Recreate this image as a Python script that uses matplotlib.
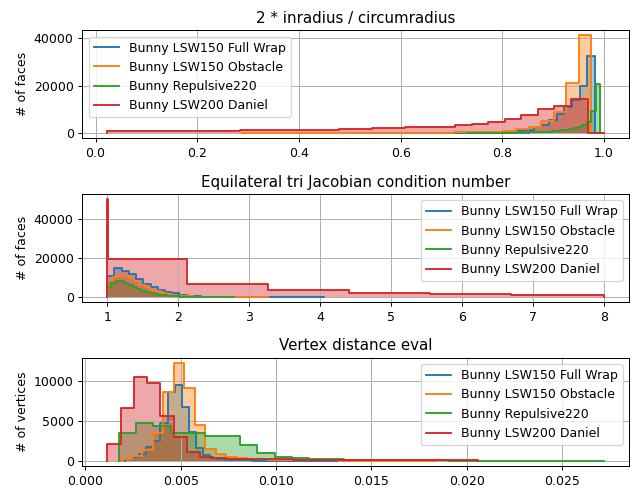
import numpy as np
import matplotlib
matplotlib.use("Agg")
import matplotlib.pyplot as plt

labels = ['Bunny LSW150 Full Wrap', 'Bunny LSW150 Obstacle',
          'Bunny Repulsive220', 'Bunny LSW200 Daniel']
colors = ['tab:blue', 'tab:orange', 'tab:green', 'tab:red']

# --- 2 * inradius / circumradius  (bin range, counts per bin)
ratio_wrap_range = (0.53, 0.982)
ratio_wrap = [1, 2, 4, 5, 8, 10, 15, 20, 25, 35, 45, 60, 80, 100, 130,
              180, 250, 350, 500, 700, 1000, 1300, 2600, 3700, 5700,
              8300, 11000, 14000, 20000, 32500]
ratio_obst_range = (0.288, 0.999)
ratio_obst = [20, 25, 30, 35, 40, 50, 60, 70, 80, 100, 120, 140, 170, 200,
              240, 290, 350, 420, 500, 620, 750, 1100, 1700, 2600, 5000,
              9000, 21000, 41000, 150]
ratio_rep_range = (0.73, 0.992)
ratio_rep = [40, 55, 70, 85, 100, 120, 140, 160, 190, 220, 250, 290, 330,
             380, 430, 500, 600, 700, 800, 900, 1100, 1300, 1600, 1800,
             2100, 2900, 3600, 4700, 9500, 20700]
ratio_dan_range = (0.023, 1.0)
ratio_dan = [900, 900, 950, 950, 1000, 1000, 1000, 1050, 1400, 1450, 1500,
             1500, 1550, 1600, 2000, 2050, 2100, 2150, 2600, 2700, 2800,
             3600, 3800, 4800, 5900, 7900, 10000, 11400, 14500, 100]

# --- Equilateral tri Jacobian condition number
jac_wrap_range = (1.0, 4.05)
jac_wrap = [11000, 14900, 13600, 11900, 9300, 6800, 5100, 3900, 2900, 2000,
            1400, 850, 550, 350, 240, 170, 120, 90, 70, 55, 45, 35, 28, 22,
            18, 14, 10, 8, 6, 5]
jac_obst_range = (1.0, 3.27)
jac_obst = [8800, 10500, 11400, 11000, 9800, 8100, 6400, 5100, 3900, 3000,
            2400, 1700, 1200, 850, 600, 430, 310, 230, 170, 130, 100, 80,
            60, 45, 35, 25, 20, 15, 10, 8]
jac_rep_range = (1.0, 2.79)
jac_rep = [5100, 7100, 8500, 8500, 7500, 6300, 5100, 4100, 3400, 2700, 2200,
           1700, 1400, 1100, 850, 650, 500, 380, 290, 220, 170, 130, 100,
           80, 60, 45, 35, 25, 18, 12]
jac_dan_edges = [1.0, 1.004, 2.13, 3.27, 4.41, 5.55, 6.69, 8.0]
jac_dan = [50000, 19500, 6600, 3700, 2400, 1750, 1100]

# --- Vertex distance eval
dist_wrap_range = (0.00209, 0.01319)
dist_wrap = [250, 540, 900, 1800, 2500, 4800, 8670, 9580, 6800, 3670, 1580,
             750, 420, 280, 200, 150, 110, 85, 65, 50, 40, 30, 22, 16, 12,
             9, 6, 4, 3, 2]
dist_obst_range = (0.00188, 0.01838)
dist_obst = [250, 700, 1400, 3460, 8600, 12300, 9200, 4500, 1460, 830, 540,
             380, 280, 220, 180, 150, 130, 115, 100, 90, 80, 70, 60, 50, 40,
             30, 25, 20, 15, 10]
dist_rep_range = (0.00175, 0.0272)
dist_rep = [3580, 4790, 4375, 3540, 3540, 3125, 3125, 2000, 960, 540, 330,
            250, 210, 180, 150, 130, 110, 95, 80, 70, 60, 50, 40, 35, 30,
            25, 20, 15]
dist_dan_range = (0.00115, 0.0206)
dist_dan = [2100, 6700, 10500, 9800, 5600, 3000, 1200, 550, 350, 280, 250,
            230, 220, 210, 200, 200, 190, 190, 180, 180, 170, 170, 160, 160,
            150, 150, 140, 140]


def edges_from(rng, counts):
    return np.linspace(rng[0], rng[1], len(counts) + 1)


def draw(ax, series):
    for (counts, edges), c, lab in zip(series, colors, labels):
        edges = np.asarray(edges, dtype=float)
        x = np.concatenate([[edges[0]], edges])
        y = np.concatenate([[0], counts, [0]])
        poly = ax.fill_between(x, y, step='post', color=c, alpha=0.4,
                               linewidth=0)
        poly.sticky_edges.y[:] = []
        ax.step(x, y, where='post', color=c, linewidth=1.5, label=lab)


fig, axs = plt.subplots(3, 1, figsize=(634 / 90, 488 / 90), dpi=90)
fig.subplots_adjust(left=0.130, right=0.992, top=0.938, bottom=0.045,
                    hspace=0.515)

draw(axs[0], [
    (ratio_wrap, edges_from(ratio_wrap_range, ratio_wrap)),
    (ratio_obst, edges_from(ratio_obst_range, ratio_obst)),
    (ratio_rep, edges_from(ratio_rep_range, ratio_rep)),
    (ratio_dan, edges_from(ratio_dan_range, ratio_dan)),
])
axs[0].set_title('2 * inradius / circumradius')
axs[0].set_ylabel('# of faces')
axs[0].legend(loc='upper left')

draw(axs[1], [
    (jac_wrap, edges_from(jac_wrap_range, jac_wrap)),
    (jac_obst, edges_from(jac_obst_range, jac_obst)),
    (jac_rep, edges_from(jac_rep_range, jac_rep)),
    (jac_dan, jac_dan_edges),
])
axs[1].set_title('Equilateral tri Jacobian condition number')
axs[1].set_ylabel('# of faces')
axs[1].legend(loc='upper right')

draw(axs[2], [
    (dist_wrap, edges_from(dist_wrap_range, dist_wrap)),
    (dist_obst, edges_from(dist_obst_range, dist_obst)),
    (dist_rep, edges_from(dist_rep_range, dist_rep)),
    (dist_dan, edges_from(dist_dan_range, dist_dan)),
])
axs[2].set_title('Vertex distance eval')
axs[2].set_ylabel('# of vertices')
axs[2].legend(loc='upper right')

for ax in axs:
    ax.grid(True)
    ax.relim()
    ax.autoscale_view()

plt.savefig('out.png', dpi=90)
